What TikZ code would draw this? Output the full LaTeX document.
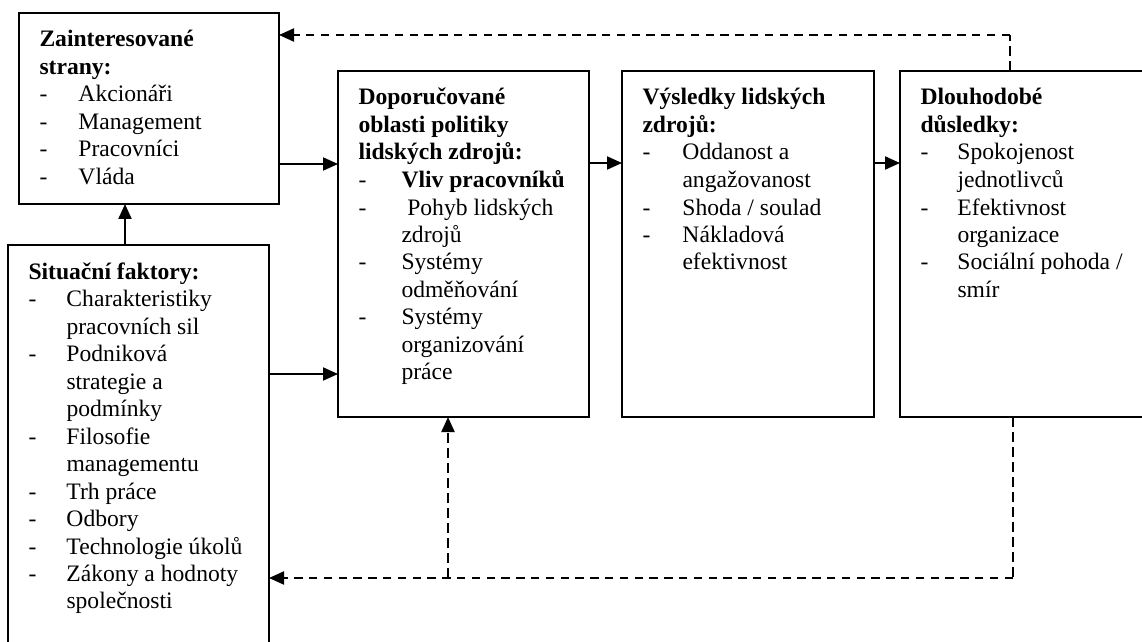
\documentclass[tikz,border=0pt]{standalone}
\usepackage{fontspec}
\setmainfont{Liberation Serif}
\usetikzlibrary{arrows.meta}
\newlength\itmind
\newcommand\itm[1]{\par\hangindent=\itmind\hangafter=1\noindent\makebox[\itmind][l]{-}#1}
\newcommand\bx[4]{\parbox[c][#2][t]{#1}{\fontsize{11.8pt}{13.75pt}\selectfont\parindent=0pt\rightskip=0pt plus 1fil\leftskip=10.25pt\setlength\itmind{#3}\rule{0pt}{17pt}#4}}
\tikzset{
  box/.style={draw, line width=1pt, inner sep=0pt, outer sep=0pt, anchor=north west},
  arr/.style={line width=1pt, -{Triangle[length=7.5pt,width=6.5pt]}},
  hdash/.style={line width=1.3pt, dash pattern=on 4.2pt off 3.2pt},
  vdash/.style={line width=0.75pt, dash pattern=on 5pt off 2.5pt},
}
\begin{document}
\begin{tikzpicture}[x=0.5pt, y=-0.5pt]
\useasboundingbox (0,0) rectangle (1142,642);
\clip (0,0) rectangle (1142,642);
\node[box] (zs) at (19,13) {\bx{130pt}{95.5pt}{19.5pt}{\textbf{Zainteresované}\\\textbf{strany:}
  \itm{Akcionáři}
  \itm{Management}
  \itm{Pracovníci}
  \itm{Vláda}}};
\node[box] (sf) at (8,245) {\bx{130.5pt}{230pt}{19pt}{\textbf{Situační faktory:}
  \itm{Charakteristiky\\pracovních sil}
  \itm{Podniková\\strategie a\\podmínky}
  \itm{Filosofie\\managementu}
  \itm{Trh práce}
  \itm{Odbory}
  \itm{Technologie úkolů}
  \itm{Zákony a hodnoty\\společnosti}}};
\node[box] (dop) at (338,71) {\bx{125.5pt}{173pt}{21.5pt}{\textbf{Doporučované}\\\textbf{oblasti politiky}\\\textbf{lidských zdrojů:}
  \itm{\textbf{Vliv pracovníků}}
  \itm{\hspace{2.9pt}Pohyb lidských\\zdrojů}
  \itm{Systémy\\odměňování}
  \itm{Systémy\\organizování\\práce}}};
\node[box] (vys) at (622,71) {\bx{126pt}{173pt}{20pt}{\textbf{Výsledky lidských}\\\textbf{zdrojů:}
  \itm{Oddanost a\\angažovanost}
  \itm{Shoda / soulad}
  \itm{Nákladová\\efektivnost}}};
\node[box] (dlo) at (900,71) {\bx{150pt}{173pt}{18.5pt}{\textbf{Dlouhodobé}\\\textbf{důsledky:}
  \itm{Spokojenost\\jednotlivců}
  \itm{Efektivnost\\organizace}
  \itm{Sociální pohoda /\\smír}}};
% solid connectors
\draw[arr] (sf.north -| 125,0) -- (zs.south -| 125,0);
\draw[arr] (zs.east |- 0,164) -- (dop.west |- 0,164);
\draw[arr] (sf.east |- 0,374) -- (dop.west |- 0,374);
\draw[arr] (dop.east |- 0,163) -- (vys.west |- 0,163);
\draw[arr] (vys.east |- 0,163) -- (dlo.west |- 0,163);
% dashed feedback
\coordinate (c1) at (1010,35);
\coordinate (c2) at (1013,578);
\coordinate (j) at (448,578);
\draw[vdash] (dlo.north -| c1) -- (c1);
\draw[hdash, arr] (c1) -- (zs.east |- c1);
\draw[vdash] (dlo.south -| c2) -- (c2);
\draw[hdash, arr] (c2) -- (sf.east |- c2);
\draw[vdash, arr] (j) -- (dop.south -| j);
\end{tikzpicture}
\end{document}
